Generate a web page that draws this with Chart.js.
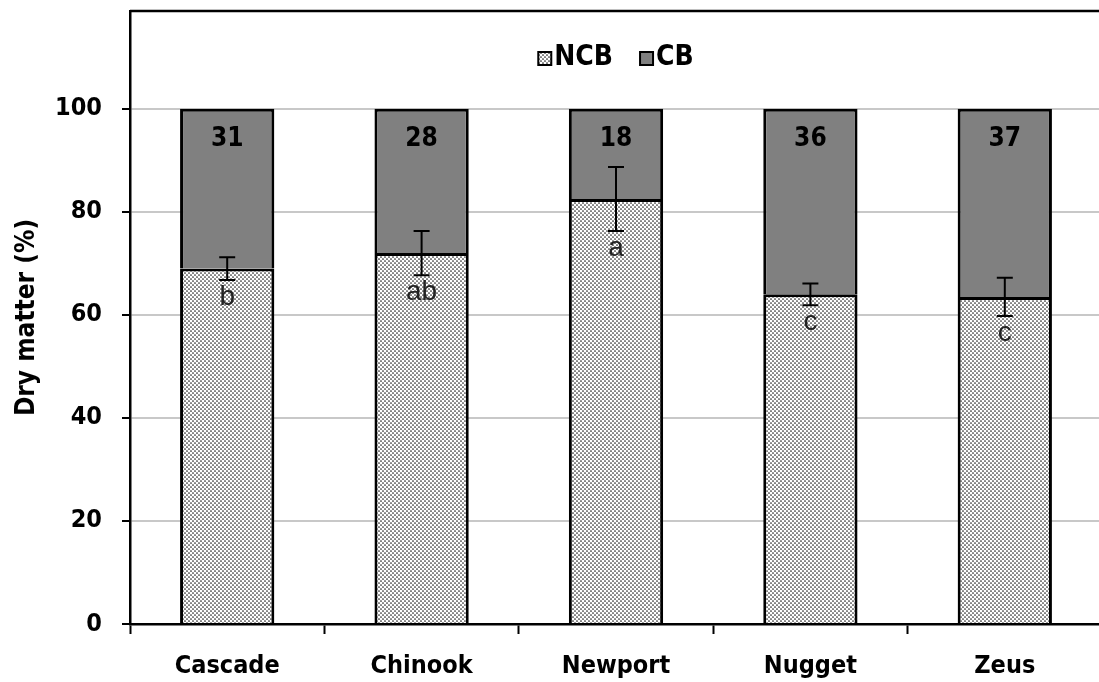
<!DOCTYPE html>
<html>
<head>
<meta charset="utf-8">
<script src="https://cdn.jsdelivr.net/npm/chart.js@4.4.0/dist/chart.umd.min.js"></script>
<style>
html, body { margin: 0; padding: 0; background: #fff; overflow: hidden; }
</style>
</head>
<body>
<canvas id="myChart" width="1102" height="682"></canvas>
<script>
// chart values
var varieties = ['Cascade', 'Chinook', 'Newport', 'Nugget', 'Zeus'];
var ncbValues = [69, 72, 82.5, 64, 63.5];
var cbValues = [31, 28, 17.5, 36, 36.5];
var ncbErrors = [2.2, 4.3, 6.2, 2.1, 3.7];
var letters = ['b', 'ab', 'a', 'c', 'c'];
var yTicks = [0, 20, 40, 60, 80, 100];

var boldFont = "'DejaVu Sans Condensed', 'Liberation Sans Narrow', sans-serif";

// dotted fill used by NCB
function makeDots() {
  var c = document.createElement('canvas');
  c.width = 4; c.height = 4;
  var g = c.getContext('2d');
  g.fillStyle = '#fff';
  g.fillRect(0, 0, 4, 4);
  g.fillStyle = '#222';
  g.beginPath(); g.arc(1, 1, 0.85, 0, Math.PI * 2); g.fill();
  g.beginPath(); g.arc(3, 3, 0.85, 0, Math.PI * 2); g.fill();
  return document.createElement('canvas').getContext('2d').createPattern(c, 'repeat');
}
var dots = makeDots();

var annotate = {
  id: 'annotate',
  afterDatasetsDraw: function(chart) {
    var c = chart.ctx;
    var y = chart.scales.y;
    var meta = chart.getDatasetMeta(0);
    c.save();
    c.strokeStyle = '#000';
    c.lineWidth = 2;
    for (var i = 0; i < varieties.length; i++) {
      var bx = meta.data[i].x;
      var yTop = y.getPixelForValue(ncbValues[i] + ncbErrors[i]);
      var yBot = y.getPixelForValue(ncbValues[i] - ncbErrors[i]);
      c.beginPath();
      c.moveTo(bx, yTop); c.lineTo(bx, yBot);
      c.moveTo(bx - 8, yTop); c.lineTo(bx + 8, yTop);
      c.moveTo(bx - 8, yBot); c.lineTo(bx + 8, yBot);
      c.stroke();

      c.fillStyle = '#222';
      c.font = "28px 'Liberation Sans', sans-serif";
      c.textAlign = 'center';
      c.textBaseline = 'middle';
      c.fillText(letters[i], bx, yBot + 17);

      c.fillStyle = '#000';
      c.font = 'bold 26px ' + boldFont;
      c.fillText(Math.round(cbValues[i]), bx, y.getPixelForValue(100) + 30);
    }
    c.restore();
  },
  afterDraw: function(chart) {
    var c = chart.ctx;
    var a = chart.chartArea;
    c.save();
    // frame top line
    c.strokeStyle = '#000';
    c.lineWidth = 2.5;
    c.beginPath();
    c.moveTo(a.left, a.top); c.lineTo(a.right, a.top);
    c.stroke();

    // legend
    c.lineWidth = 2;
    c.font = 'bold 28px ' + boldFont;
    c.textBaseline = 'middle';
    c.textAlign = 'left';
    var w1 = c.measureText('NCB').width;
    var w2 = c.measureText('CB').width;
    var total = 13 + 3 + w1 + 27 + 13 + 3 + w2;
    var lx = (a.left + a.right) / 2 - total / 2;
    var ly = a.top + 47;
    c.fillStyle = dots;
    c.fillRect(lx, ly - 6, 13, 13);
    c.strokeRect(lx, ly - 6, 13, 13);
    c.fillStyle = '#000';
    c.fillText('NCB', lx + 16, ly);
    var lx2 = lx + 16 + w1 + 27;
    c.fillStyle = '#808080';
    c.fillRect(lx2, ly - 6, 13, 13);
    c.strokeRect(lx2, ly - 6, 13, 13);
    c.fillStyle = '#000';
    c.fillText('CB', lx2 + 16, ly);
    c.restore();
  }
};

var canvas = document.getElementById('myChart');
var myChart = new Chart(canvas, {
  type: 'bar',
  data: {
    labels: varieties,
    datasets: [
      {
        label: 'NCB',
        data: ncbValues,
        backgroundColor: dots,
        borderColor: '#000',
        borderWidth: 3,
        barPercentage: 0.485,
        categoryPercentage: 1
      },
      {
        label: 'CB',
        data: cbValues,
        backgroundColor: '#808080',
        borderColor: '#000',
        borderWidth: 3,
        barPercentage: 0.485,
        categoryPercentage: 1
      }
    ]
  },
  options: {
    responsive: false,
    animation: false,
    devicePixelRatio: 1,
    layout: { padding: { top: 11, right: 0, left: 0, bottom: 0 } },
    plugins: {
      legend: { display: false },
      tooltip: { enabled: false }
    },
    scales: {
      x: {
        stacked: true,
        grid: { offset: true, drawOnChartArea: false, tickColor: '#000', tickLength: 10, tickWidth: 2 },
        border: { color: '#000', width: 2.5 },
        ticks: { color: '#000', font: { family: boldFont, weight: 'bold', size: 25 }, padding: 17 },
        afterFit: function(s) { s.height = 58; s.paddingLeft = 0; s.paddingRight = 0; }
      },
      y: {
        stacked: true,
        min: 0,
        max: 119,
        afterBuildTicks: function(s) { s.ticks = yTicks.map(function(v) { return { value: v }; }); },
        grid: {
          color: function(ctx) { return ctx.tick && ctx.tick.value === 0 ? 'rgba(0,0,0,0)' : '#c8c8c8'; },
          lineWidth: 2,
          tickColor: '#000',
          tickLength: 8,
          tickWidth: 2
        },
        border: { color: '#000', width: 2.5 },
        ticks: { color: '#000', font: { family: boldFont, weight: 'bold', size: 25 }, padding: 20 },
        title: {
          display: true,
          text: 'Dry matter (%)',
          color: '#000',
          font: { family: boldFont, weight: 'bold', size: 26 },
          padding: { top: 12, bottom: 0 }
        },
        afterFit: function(s) { s.width = 130; s.paddingTop = 0; s.paddingBottom = 0; }
      }
    }
  },
  plugins: [annotate]
});
</script>
</body>
</html>
